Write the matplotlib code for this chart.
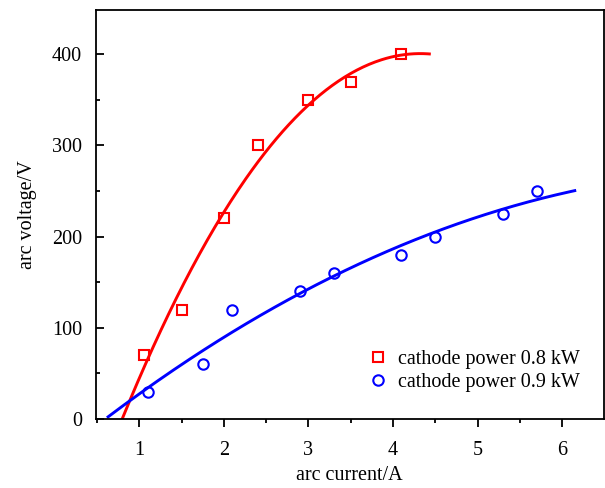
import numpy as np
import matplotlib
matplotlib.use("Agg")
import matplotlib.pyplot as plt
from matplotlib.ticker import MultipleLocator

# measured points
current_08 = [1.05, 1.5, 2.0, 2.4, 3.0, 3.5, 4.1]
voltage_08 = [70, 120, 220, 300, 350, 370, 400]

current_09 = [1.1, 1.75, 2.1, 2.9, 3.3, 4.1, 4.5, 5.3, 5.7]
voltage_09 = [30, 60, 120, 140, 160, 180, 200, 225, 250]

# range over which the fitted curves are drawn
fit_range_08 = (0.8, 4.43)
fit_range_09 = (0.63, 6.15)

labels = ["cathode power 0.8 kW", "cathode power 0.9 kW"]

plt.rcParams["font.family"] = ["Liberation Serif", "DejaVu Serif"]

fig = plt.figure(figsize=(6.05, 4.88), dpi=100)
ax = fig.add_axes([96 / 605, (488 - 419) / 488, 507.5 / 605, 409.5 / 488])


def fit_curve(x, y, x_range):
    # quadratic fit, as in the original figure
    coef = np.polyfit(x, y, 2)
    xs = np.linspace(x_range[0], x_range[1], 200)
    return xs, np.polyval(coef, xs)


xs, ys = fit_curve(current_08, voltage_08, fit_range_08)
ax.plot(xs, ys, color="red", lw=2.1, zorder=2)
xs, ys = fit_curve(current_09, voltage_09, fit_range_09)
ax.plot(xs, ys, color="blue", lw=2.1, zorder=2)

ax.plot(current_08, voltage_08, ls="none", marker="s", ms=7, mfc="none",
        mec="red", mew=1.5, label=labels[0], zorder=3)
ax.plot(current_09, voltage_09, ls="none", marker="o", ms=7.5, mfc="none",
        mec="blue", mew=1.5, label=labels[1], zorder=3)

ax.set_xlim(0.487, 6.49)
ax.set_ylim(0, 449)
ax.xaxis.set_major_locator(MultipleLocator(1))
ax.xaxis.set_minor_locator(MultipleLocator(0.5))
ax.yaxis.set_major_locator(MultipleLocator(100))
ax.yaxis.set_minor_locator(MultipleLocator(50))
ax.tick_params(which="both", width=1.3, labelsize=14.5, top=False, right=False)
ax.tick_params(axis="x", which="both", direction="out", pad=10)
ax.tick_params(axis="y", which="both", direction="in", pad=10)
ax.tick_params(which="major", length=5.5)
ax.tick_params(which="minor", length=3)
for sp in ax.spines.values():
    sp.set_linewidth(1.3)

ax.set_xlabel("arc current/A", fontsize=14.5, labelpad=5)
ax.set_ylabel("arc voltage/V", fontsize=14.5, labelpad=11)

ax.legend(loc="lower right", bbox_to_anchor=(0.99, 0.022), frameon=False,
          fontsize=14.5, handletextpad=0.5, labelspacing=0.2,
          handlelength=1.0)

fig.savefig("out.png", dpi=100)
